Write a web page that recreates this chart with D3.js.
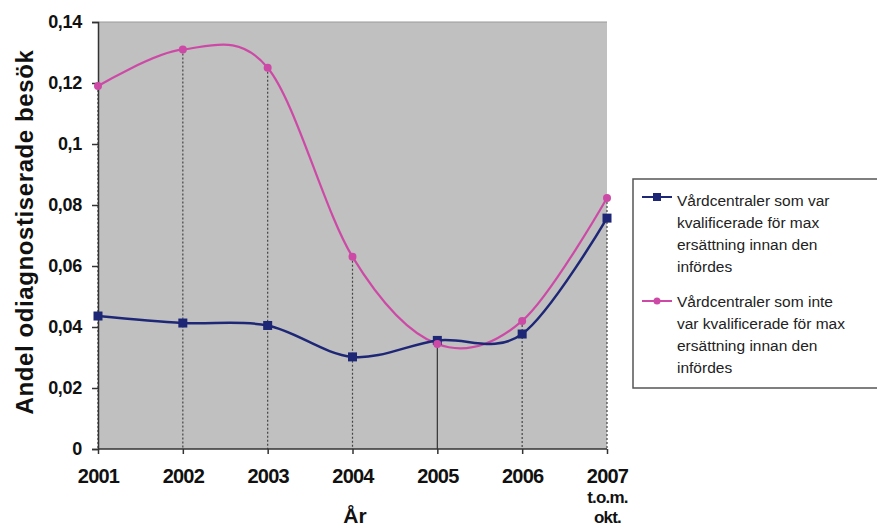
<!DOCTYPE html>
<html>
<head>
<meta charset="utf-8">
<script src="https://cdn.jsdelivr.net/npm/d3@7"></script>
<style>
  body { margin: 0; background: #fff; }
  svg { display: block; }
  text { font-family: Arial, "Liberation Sans", sans-serif; }
</style>
</head>
<body>
<svg id="chart" width="877" height="530"></svg>
<script>
// Years on the category axis
const years = ["2001", "2002", "2003", "2004", "2005", "2006", "2007"];
// Share of undiagnosed visits per year
const qualified = [0.0436, 0.0413, 0.0405, 0.0302, 0.0356, 0.0377, 0.0757];
const notQualified = [0.1190, 0.1310, 0.1250, 0.0630, 0.0344, 0.0420, 0.0823];
const yTicks = [0, 0.02, 0.04, 0.06, 0.08, 0.1, 0.12, 0.14];
const seriesNames = [
  ["Vårdcentraler som var", "kvalificerade för max", "ersättning innan den", "infördes"],
  ["Vårdcentraler som inte", "var kvalificerade för max", "ersättning innan den", "infördes"]
];

const svg = d3.select("#chart");
const m = { left: 98, right: 607, top: 22, bottom: 449 };

const x = d3.scalePoint().domain(years).range([m.left, m.right]);
const y = d3.scaleLinear().domain([0, 0.14]).range([m.bottom, m.top]);

// Plot background
svg.append("rect")
  .attr("x", m.left).attr("y", m.top)
  .attr("width", m.right - m.left).attr("height", m.bottom - m.top)
  .attr("fill", "#c0c0c0");
svg.append("line")
  .attr("x1", m.left).attr("x2", m.right).attr("y1", m.top).attr("y2", m.top)
  .attr("stroke", "#999").attr("stroke-width", 1);

// Drop lines from the higher point of each year down to the axis
years.forEach((yr, i) => {
  const top = Math.min(y(qualified[i]), y(notQualified[i]));
  svg.append("line")
    .attr("x1", x(yr)).attr("x2", x(yr))
    .attr("y1", top).attr("y2", m.bottom)
    .attr("stroke", yr === "2005" ? "#333" : "#444")
    .attr("stroke-width", 1.2)
    .attr("stroke-dasharray", yr === "2005" ? null : "2,2");
});

// Axes
const fmt = d => d === 0 ? "0" : String(+d.toFixed(2)).replace(".", ",");
const yAxis = svg.append("g")
  .attr("transform", `translate(${m.left},0)`)
  .call(d3.axisLeft(y).tickValues(yTicks).tickFormat(fmt).tickSize(6).tickPadding(10));
const xAxis = svg.append("g")
  .attr("transform", `translate(0,${m.bottom})`)
  .call(d3.axisBottom(x).tickSize(5).tickPadding(15));
[yAxis, xAxis].forEach(g => {
  g.select(".domain").attr("stroke", "#333").attr("stroke-width", 1.5);
  g.selectAll(".tick line").attr("stroke", "#333").attr("stroke-width", 1.5);
  g.selectAll("text")
    .attr("fill", "#111")
    .style("font-weight", "bold");
});
yAxis.selectAll("text").style("font-size", "18px").style("letter-spacing", "-0.3px");
xAxis.selectAll("text").style("font-size", "20px").style("letter-spacing", "-0.8px");
xAxis.select(".domain").attr("d", `M${m.left},0H${m.right}`);

// Extra lines under the final category label
const last = xAxis.selectAll(".tick").filter(d => d === "2007");
["t.o.m.", "okt."].forEach((t, i) => {
  last.append("text")
    .attr("y", 54 + i * 20)
    .attr("text-anchor", "middle")
    .attr("fill", "#111")
    .style("font-size", "17px")
    .style("font-weight", "bold")
    .style("letter-spacing", "-0.8px")
    .text(t);
});

// Axis titles
svg.append("text")
  .attr("transform", `translate(33,232) rotate(-90)`)
  .attr("text-anchor", "middle")
  .attr("fill", "#111")
  .style("font-size", "24px")
  .style("font-weight", "bold")
  .style("letter-spacing", "0.6px")
  .text("Andel odiagnostiserade besök");
svg.append("text")
  .attr("x", 355).attr("y", 523)
  .attr("text-anchor", "middle")
  .attr("fill", "#111")
  .style("font-size", "21px")
  .style("font-weight", "bold")
  .text("År");

// Smoothed series lines
const line = d3.line()
  .x((d, i) => x(years[i]))
  .y(d => y(d))
  .curve(d3.curveCardinal.tension(0));

const blue = "#1e2776";
const pink = "#cc4aa6";

svg.append("path").datum(notQualified)
  .attr("d", line).attr("fill", "none")
  .attr("stroke", pink).attr("stroke-width", 2.2);
svg.append("path").datum(qualified)
  .attr("d", line).attr("fill", "none")
  .attr("stroke", blue).attr("stroke-width", 2.5);

svg.selectAll(".mq").data(qualified).enter().append("rect")
  .attr("x", (d, i) => x(years[i]) - 4.5)
  .attr("y", d => y(d) - 4.5)
  .attr("width", 9).attr("height", 9)
  .attr("fill", blue);
svg.selectAll(".mn").data(notQualified).enter().append("circle")
  .attr("cx", (d, i) => x(years[i]))
  .attr("cy", d => y(d))
  .attr("r", 4)
  .attr("fill", pink);

// Legend
const lg = svg.append("g");
lg.append("rect")
  .attr("x", 633).attr("y", 179).attr("width", 260).attr("height", 209)
  .attr("fill", "#fff").attr("stroke", "#555").attr("stroke-width", 1.5);
const entries = [
  { color: blue, shape: "square", mark: 197, base: 206 },
  { color: pink, shape: "circle", mark: 301, base: 307 }
];
entries.forEach((e, k) => {
  lg.append("line")
    .attr("x1", 642).attr("x2", 672).attr("y1", e.mark).attr("y2", e.mark)
    .attr("stroke", e.color).attr("stroke-width", 2);
  if (e.shape === "square") {
    lg.append("rect").attr("x", 653).attr("y", e.mark - 4)
      .attr("width", 8).attr("height", 8).attr("fill", e.color);
  } else {
    lg.append("circle").attr("cx", 657).attr("cy", e.mark).attr("r", 3.5)
      .attr("fill", e.color);
  }
  seriesNames[k].forEach((t, j) => {
    lg.append("text")
      .attr("x", 677).attr("y", e.base + j * 22)
      .attr("fill", "#222")
      .style("font-size", "15.5px")
      .text(t);
  });
});
</script>
</body>
</html>
